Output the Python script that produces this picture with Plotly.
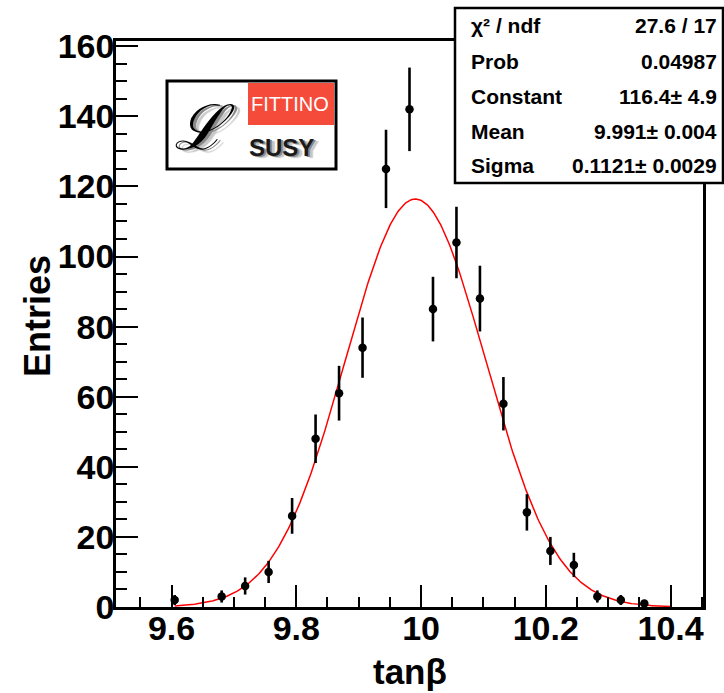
import numpy as np
import plotly.graph_objects as go

# ---------------- data ----------------
hist_low = 9.511
hist_high = 10.452
n_bins = 25
counts = [0, 0, 2, 0, 3, 6, 10, 26, 48, 61, 74, 125, 142, 85, 104, 88, 58, 27, 16, 12, 3, 2, 1, 0, 0]

fit_constant = 116.4
fit_mean = 9.991
fit_sigma = 0.1121
fit_range = [9.605, 10.40]

stat_labels = ["χ² / ndf", "Prob", "Constant", "Mean", "Sigma"]
stat_values = ["27.6 / 17", "0.04987", "116.4± 4.9", "9.991± 0.004", "0.1121± 0.0029"]

x_title = "tanβ"
y_title = "Entries"
y_max = 161.5

# ---------------- derived ----------------
bw = (hist_high - hist_low) / n_bins
centers = [hist_low + (i + 0.5) * bw for i in range(n_bins)]
xs = [c for c, n in zip(centers, counts) if n > 0]
ys = [n for n in counts if n > 0]
errs = [np.sqrt(n) for n in ys]

xf = np.linspace(fit_range[0], fit_range[1], 400)
yf = fit_constant * np.exp(-0.5 * ((xf - fit_mean) / fit_sigma) ** 2)

# ---------------- layout helpers (pixels -> paper) ----------------
L, R, T, B = 116, 703, 41, 607
W, H = R - L, B - T


def px(x):
    return (x - L) / W


def py(y):
    return (B - y) / H


FONT = "Liberation Sans, Arial, Helvetica, sans-serif"

fig = go.Figure()
fig.add_trace(go.Scatter(
    x=list(xf), y=list(yf), mode="lines",
    line=dict(color="#ff0000", width=1.5), hoverinfo="skip", showlegend=False))
fig.add_trace(go.Scatter(
    x=xs, y=ys, mode="markers",
    marker=dict(color="black", size=8.5),
    error_y=dict(type="data", array=errs, visible=True, color="black", thickness=2.6, width=0),
    showlegend=False))

axis_common = dict(
    showline=True, linecolor="black", linewidth=2.5, mirror=True,
    ticks="inside", ticklen=22, tickwidth=2, tickcolor="black",
    showgrid=False, zeroline=False,
    tickfont=dict(family=FONT, size=34, color="black", weight="bold"),
)

fig.update_xaxes(range=[hist_low, hist_high], dtick=0.2, tick0=0,
                 minor=dict(dtick=0.05, tick0=0, ticks="inside", ticklen=10, tickwidth=2, tickcolor="black"),
                 ticklabelstandoff=-11, **axis_common)
fig.update_yaxes(range=[0, y_max], dtick=20, tick0=0,
                 minor=dict(dtick=5, tick0=0, ticks="inside", ticklen=11, tickwidth=2, tickcolor="black"),
                 ticklabelstandoff=-8, **axis_common)

shapes = []
annotations = []

# axis titles
annotations.append(dict(text=x_title, xref="paper", yref="paper", x=px(410), y=py(671),
                        xanchor="center", yanchor="middle", showarrow=False,
                        font=dict(family=FONT, size=35, color="black", weight="bold")))
annotations.append(dict(text=y_title, xref="paper", yref="paper", x=px(37), y=py(316),
                        xanchor="center", yanchor="middle", showarrow=False, textangle=-90,
                        font=dict(family=FONT, size=36, color="black", weight="bold")))

# stats box
shapes.append(dict(type="rect", xref="paper", yref="paper", x0=px(455), x1=px(723), y0=py(183), y1=py(8),
                   fillcolor="white", line=dict(color="black", width=2.5), layer="above"))
row_y = [25, 61.5, 96.5, 131.5, 165]
for lab, val, yy in zip(stat_labels, stat_values, row_y):
    annotations.append(dict(text=lab, xref="paper", yref="paper", x=px(469), y=py(yy),
                            xanchor="left", yanchor="middle", showarrow=False,
                            font=dict(family=FONT, size=21, color="black", weight="bold")))
    annotations.append(dict(text=val, xref="paper", yref="paper", x=px(719), y=py(yy),
                            xanchor="right", yanchor="middle", showarrow=False,
                            font=dict(family=FONT, size=21, color="black", weight="bold")))

# logo
shapes.append(dict(type="rect", xref="paper", yref="paper", x0=px(167), x1=px(336), y0=py(169), y1=py(81),
                   fillcolor="white", line=dict(color="black", width=3), layer="above"))
shapes.append(dict(type="rect", xref="paper", yref="paper", x0=px(248), x1=px(334), y0=py(125), y1=py(83),
                   fillcolor="#f44b3a", line=dict(width=0), layer="above"))
annotations.append(dict(text="FITTINO", xref="paper", yref="paper", x=px(290), y=py(104),
                        xanchor="center", yanchor="middle", showarrow=False,
                        font=dict(family="Liberation Sans Narrow, Liberation Sans, Arial", size=20, color="white")))
annotations.append(dict(text="SUSY", xref="paper", yref="paper", x=px(281), y=py(147),
                        xanchor="center", yanchor="middle", showarrow=False,
                        font=dict(family=FONT, size=24, color="#1a1a1a", weight="bold",
                                  shadow="2px 1px 0px #888888, 5px 2px 1px #c8c8c8")))
annotations.append(dict(text="ℒ", xref="paper", yref="paper", x=px(204), y=py(128),
                        xanchor="center", yanchor="middle", showarrow=False,
                        font=dict(family="DejaVu Serif", size=62, color="black", style="italic",
                                  shadow="3px 1px 0px #8a8a8a, 6px 3px 1px #c8c8c8")))

fig.update_layout(
    width=724, height=693,
    margin=dict(l=L, r=724 - R, t=T, b=693 - B),
    paper_bgcolor="white", plot_bgcolor="white",
    shapes=shapes, annotations=annotations,
    showlegend=False,
)

fig.write_html("out.html")
